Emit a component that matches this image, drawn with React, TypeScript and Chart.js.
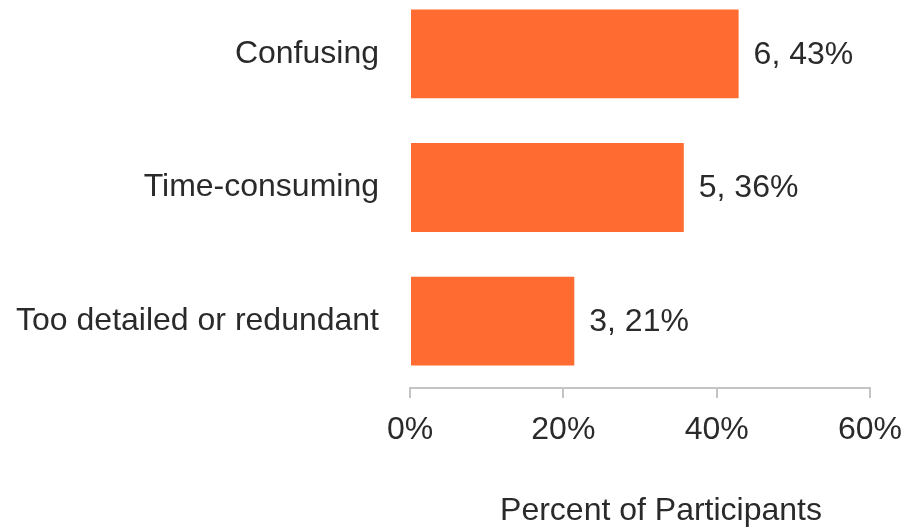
import React, { useEffect, useRef } from "react";
import { Chart, registerables } from "chart.js";

Chart.register(...registerables);

const categories = ["Confusing", "Time-consuming", "Too detailed or redundant"];
const counts = [6, 5, 3];
const percents = [42.86, 35.71, 21.43];
const xTickValues = [0, 20, 40, 60];
const axisTitle = "Percent of Participants";

const FONT = "'Liberation Sans', Arial, sans-serif";
const FONT_SIZE = 32;
const TEXT_COLOR = "#2a2a2a";
const BAR_COLOR = "#FF6B30";
const AXIS_COLOR = "#C4C4C4";
const CANVAS_W = 904;
const CANVAS_H = 540;
const SHIFT = 13;

const valueLabelPlugin = {
  id: "valueLabels",
  afterDatasetsDraw(chart: any) {
    const ctx = chart.ctx;
    const meta = chart.getDatasetMeta(0);
    ctx.save();
    ctx.font = `${FONT_SIZE}px ${FONT}`;
    ctx.fillStyle = TEXT_COLOR;
    ctx.textAlign = "left";
    ctx.textBaseline = "middle";
    meta.data.forEach((bar: any, i: number) => {
      const label = `${counts[i]}, ${Math.round(percents[i])}%`;
      ctx.fillText(label, bar.x + 15, bar.y + 1);
    });
    ctx.restore();
  },
};

const axisTitlePlugin = {
  id: "axisTitle",
  afterDraw(chart: any) {
    const ctx = chart.ctx;
    ctx.save();
    ctx.font = `${FONT_SIZE}px ${FONT}`;
    ctx.fillStyle = TEXT_COLOR;
    ctx.textAlign = "center";
    ctx.textBaseline = "alphabetic";
    ctx.fillText(axisTitle, 661, 520 + SHIFT);
    ctx.restore();
  },
};

export default function App() {
  const ref = useRef<HTMLCanvasElement | null>(null);

  useEffect(() => {
    if (!ref.current) return;
    const chart = new Chart(ref.current, {
      type: "bar",
      data: {
        labels: categories,
        datasets: [
          {
            data: percents,
            backgroundColor: BAR_COLOR,
            borderWidth: 0,
            categoryPercentage: 1,
            barPercentage: 0.665,
          },
        ],
      },
      options: {
        indexAxis: "y",
        responsive: false,
        animation: false,
        devicePixelRatio: 1,
        layout: { padding: { left: 0, right: 34, top: 0, bottom: 0 } },
        plugins: {
          legend: { display: false },
          tooltip: { enabled: false },
          title: { display: false },
        },
        scales: {
          y: {
            afterFit: (scale: any) => {
              scale.width = 410;
              scale.paddingTop = 0;
              scale.paddingBottom = 0;
            },
            grid: { display: false, drawTicks: false },
            border: { display: false },
            ticks: {
              color: TEXT_COLOR,
              font: { family: FONT, size: FONT_SIZE },
              padding: 31,
            },
          },
          x: {
            min: 0,
            max: 60,
            afterFit: (scale: any) => {
              scale.height = CANVAS_H - 401;
              scale.paddingLeft = 0;
              scale.paddingRight = 0;
            },
            afterBuildTicks: (scale: any) => {
              scale.ticks = xTickValues.map((v) => ({ value: v }));
            },
            grid: {
              display: true,
              drawOnChartArea: false,
              drawTicks: true,
              tickLength: 10,
              color: AXIS_COLOR,
              lineWidth: 2,
            },
            border: { display: true, color: AXIS_COLOR, width: 2 },
            ticks: {
              color: TEXT_COLOR,
              font: { family: FONT, size: FONT_SIZE },
              padding: 13,
              maxRotation: 0,
              callback: (v: any) => `${v}%`,
            },
          },
        },
      },
      plugins: [valueLabelPlugin, axisTitlePlugin],
    });
    return () => chart.destroy();
  }, []);

  return (
    <div
      style={{
        position: "fixed",
        left: 0,
        top: 0,
        width: CANVAS_W,
        height: 527,
        overflow: "hidden",
        background: "#fff",
      }}
    >
      <canvas
        ref={ref}
        width={CANVAS_W}
        height={CANVAS_H}
        style={{ position: "absolute", left: 0, top: -SHIFT, width: CANVAS_W, height: CANVAS_H }}
      />
    </div>
  );
}
